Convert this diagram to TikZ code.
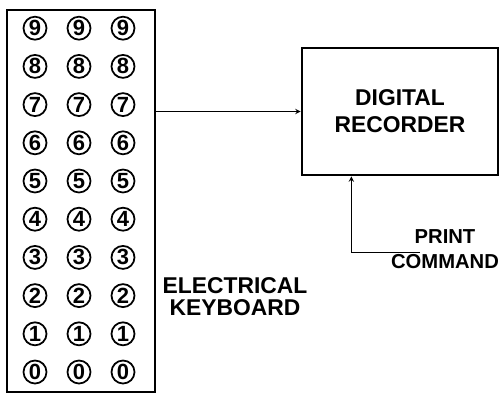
\documentclass[tikz,border=0pt]{standalone}
\usepackage{fontspec}
\setmainfont{Liberation Sans}
\usetikzlibrary{calc}

\begin{document}
\begin{tikzpicture}[scale=1.0, >=stealth,
    key/.style={draw, circle, line width=1pt, minimum size=0.46cm, inner sep=0pt,
      font=\fontsize{12.5}{12}\selectfont\bfseries},
    block/.style={draw, line width=1.5pt, inner sep=0pt},
    label/.style={align=center, font=\fontsize{13}{12.5}\selectfont\bfseries}]

    \useasboundingbox (0,0) rectangle (10,7.9);

    % ==================================================
    % 鍵盤
    % ==================================================

    % 枠
    \node[block, minimum width=2.96cm, minimum height=7.64cm] (keyboard) at (1.62,3.88) {};

    % キー（3列 × 0--9）
    \foreach \d in {0,...,9} {
      \foreach \c/\x in {a/0.70, b/1.58, c/2.46} {
        \node[key] (k\c\d) at (\x,0.46+0.764*\d) {\d};
      }
    }

    % 名前
    \node[label] (kbname) at (4.70,1.97) {ELECTRICAL\\KEYBOARD};

    % ==================================================
    % 記録器
    % ==================================================

    \node[block, minimum width=3.92cm, minimum height=2.54cm, label] (recorder) at (8.0,5.67)
      {DIGITAL\\[3pt]RECORDER};

    % 鍵盤 -> 記録器
    \draw[->, thin] (recorder.west -| keyboard.east) -- (recorder.west);

    % 印字指令
    \coordinate (cmd) at (8.4,2.86);
    \coordinate (cmdin) at ($(recorder.south west)!0.255!(recorder.south east)$);
    \draw[->, thin] (cmd) -| (cmdin);
    \node[label, font=\fontsize{11.5}{14}\selectfont\bfseries] (cmdname) at (8.9,2.92)
      {PRINT\\COMMAND};

  \end{tikzpicture}
\end{document}
